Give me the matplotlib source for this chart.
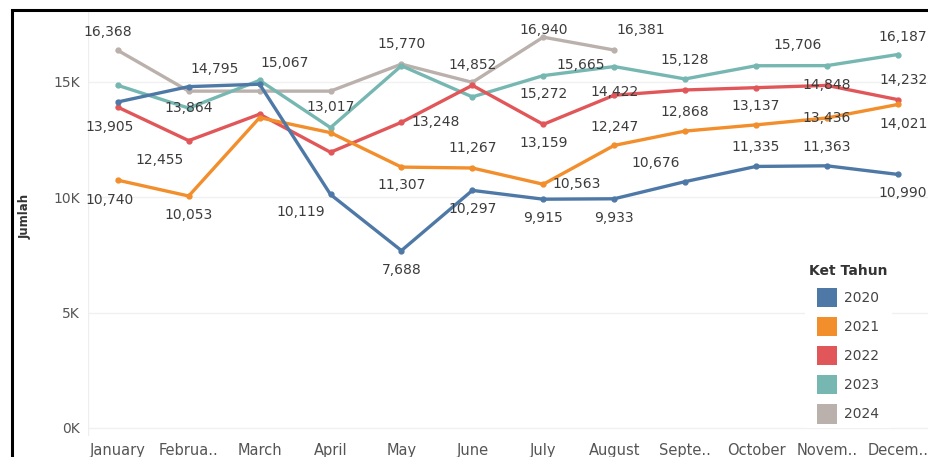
import numpy as np
import matplotlib.pyplot as plt
from matplotlib.patches import Patch, Rectangle

months = ["January", "Februa..", "March", "April", "May", "June", "July",
          "August", "Septe..", "October", "Novem..", "Decem.."]
years = ["2020", "2021", "2022", "2023", "2024"]

y2020 = [14130, 14795, 14900, 10119, 7688, 10297, 9915, 9933, 10676, 11335, 11363, 10990]
y2021 = [10740, 10053, 13450, 12800, 11307, 11267, 10563, 12247, 12868, 13137, 13436, 14021]
y2022 = [13905, 12455, 13600, 11950, 13248, 14852, 13159, 14422, 14650, 14750, 14848, 14232]
y2023 = [14850, 13864, 15067, 13017, 15700, 14350, 15272, 15665, 15128, 15700, 15706, 16187]
y2024 = [16368, 14600, 14600, 14600, 15770, 14980, 16940, 16381,
         np.nan, np.nan, np.nan, np.nan]
series = [y2020, y2021, y2022, y2023, y2024]
colors = ["#4e79a7", "#f28e2b", "#e15759", "#76b7b2", "#bab0ac"]

# which points carry a value label, with label offset in pixels (month, dx, dy)
labels = {
    "2020": [(1, 26, 18), (3, -30, -18), (4, 0, -19), (5, 0, -19), (6, 0, -19),
             (7, 0, -19), (8, -29, 19), (9, 0, 19), (10, 0, 19), (11, 5, -19)],
    "2021": [(0, -8, -20), (1, 0, -19), (4, 0, -18), (5, 0, 20), (6, 33, 0),
             (7, 0, 18), (8, 0, 19), (9, 0, 19), (10, 0, 0), (11, 6, -20)],
    "2022": [(0, -8, -20), (1, -29, -19), (4, 34, 0), (5, 0, 20), (6, 0, -19),
             (7, 0, 3), (10, 0, 0), (11, 6, 20)],
    "2023": [(1, 0, 0), (2, 25, 17), (3, 0, 21), (6, 0, -18), (7, -33, 2),
             (8, 0, 19), (10, -29, 21), (11, 5, 18)],
    "2024": [(0, -10, 18), (4, 0, 20), (6, 0, 7), (7, 27, 20)],
}

fig = plt.figure(figsize=(9.29, 4.57), dpi=100)
ax = fig.add_axes([88 / 929, 21 / 457, 841 / 929, 424 / 457])

x = np.arange(len(months))
for yr, vals, c in reversed(list(zip(years, series, colors))):
    ax.plot(x, vals, color=c, lw=2.4, marker="o", ms=3.5, zorder=2)
    for i, dx, dy in labels[yr]:
        ax.annotate(f"{vals[i]:,}", (x[i], vals[i]), xytext=(dx, dy),
                    textcoords="offset pixels", ha="center", va="center",
                    fontsize=10, color="#3c3c3c", zorder=5)

ax.set_xlim(-0.42, 11.44)
ax.set_ylim(-350, 18030)
ax.set_xticks(x)
ax.set_xticklabels(months, fontsize=10.5, color="#555555")
ax.set_yticks([0, 5000, 10000, 15000])
ax.set_yticklabels(["0K", "5K", "10K", "15K"], fontsize=10, color="#555555")
ax.tick_params(length=0, pad=6)
ax.tick_params(axis="x", pad=5)
for s in ax.spines.values():
    s.set_visible(False)
ax.axvline(-0.42, color="#eeeeee", lw=1)
ax.grid(axis="y", color="#f0f0f0", lw=1)
ax.set_axisbelow(True)

fig.text(25 / 929, 1 - 216 / 457, "Jumlah", rotation=90, ha="center", va="center",
         fontsize=8.5, fontweight="bold", color="#333333")

handles = [Patch(facecolor=c, edgecolor="none", label=yr) for yr, c in zip(years, colors)]
leg = ax.legend(handles=handles, title="Ket Tahun", loc="upper left",
                bbox_to_anchor=(798 / 929, 1 - 253 / 457), bbox_transform=fig.transFigure,
                fontsize=10, title_fontsize=10, frameon=True, facecolor="white",
                edgecolor="none", framealpha=1, handlelength=1.45, handleheight=1.8,
                labelspacing=0.68, handletextpad=0.5, borderpad=0.3)
leg.get_title().set_fontweight("bold")
leg.get_title().set_color("#333333")
for t in leg.get_texts():
    t.set_color("#444444")
leg.set_zorder(6)

fig.add_artist(Rectangle((12 / 929, -0.1), 1.2, 1 - 10 / 457 + 0.1,
                         transform=fig.transFigure, fill=False, edgecolor="black", lw=2.2))

fig.savefig("out.png", dpi=100)
